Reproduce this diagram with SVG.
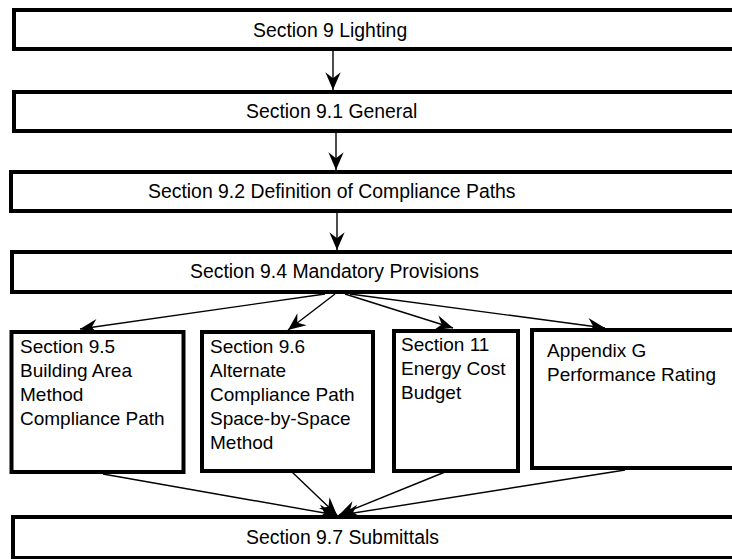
<svg xmlns="http://www.w3.org/2000/svg" width="732" height="559" viewBox="0 0 732 559">
<style>
.box{fill:#fff;stroke:#000;stroke-width:4}
.t{font-family:"Liberation Sans",Arial,sans-serif;font-size:19px;fill:#000}
.w{font-size:19.4px}
.c{stroke:#000;stroke-width:1.4;fill:none;marker-end:url(#ah)}
</style>
<defs>
<marker id="ah" markerUnits="userSpaceOnUse" markerWidth="20" markerHeight="20" viewBox="-16 -8 17 16" refX="0" refY="0" orient="auto">
<path d="M0,0 L-15,-6.5 L-10,0 L-15,6.5 Z" fill="#000"/>
</marker>
</defs>
<rect width="732" height="559" fill="#fff"/>
<g id="connectors">
<line class="c" x1="333" y1="51" x2="333" y2="90"/>
<line class="c" x1="336" y1="133" x2="336" y2="170"/>
<line class="c" x1="337" y1="213" x2="337" y2="250"/>
<line class="c" x1="325" y1="294" x2="80" y2="329"/>
<line class="c" x1="335" y1="294" x2="288" y2="330"/>
<line class="c" x1="345" y1="294" x2="453" y2="328"/>
<line class="c" x1="350" y1="294" x2="605" y2="328"/>
<line class="c" x1="103" y1="474" x2="336" y2="515"/>
<line class="c" x1="292" y1="472" x2="337" y2="515"/>
<line class="c" x1="445" y1="472" x2="339" y2="515"/>
<line class="c" x1="625" y1="470" x2="341" y2="515"/>
</g>
<g id="n1"><rect class="box" x="14" y="10" width="730" height="39"/><text class="t w" x="253" y="37">Section 9 Lighting</text></g>
<g id="n2"><rect class="box" x="14" y="92" width="730" height="39"/><text class="t w" x="246" y="118">Section 9.1 General</text></g>
<g id="n3"><rect class="box" x="11" y="172" width="733" height="39"/><text class="t w" x="148" y="198">Section 9.2 Definition of Compliance Paths</text></g>
<g id="n4"><rect class="box" x="12" y="252" width="732" height="40"/><text class="t w" x="190" y="278">Section 9.4 Mandatory Provisions</text></g>
<g id="n5"><rect class="box" x="11.5" y="332" width="172" height="140"/>
<text class="t" x="20" y="353">Section 9.5</text><text class="t" x="20" y="377">Building Area</text><text class="t" x="20" y="401">Method</text><text class="t" x="20" y="425">Compliance Path</text></g>
<g id="n6"><rect class="box" x="202" y="332" width="171" height="139"/>
<text class="t" x="210" y="353">Section 9.6</text><text class="t" x="210" y="377">Alternate</text><text class="t" x="210" y="401">Compliance Path</text><text class="t" x="210" y="425">Space-by-Space</text><text class="t" x="210" y="449">Method</text></g>
<g id="n7"><rect class="box" x="394" y="331" width="124" height="140"/>
<text class="t" x="401" y="351">Section 11</text><text class="t" x="401" y="375">Energy Cost</text><text class="t" x="401" y="399">Budget</text></g>
<g id="n8"><rect class="box" x="532" y="330" width="212" height="138"/>
<text class="t" x="547" y="357">Appendix G</text><text class="t" x="547" y="381">Performance Rating</text></g>
<g id="n9"><rect class="box" x="13" y="517" width="731" height="41"/><text class="t w" x="246" y="544">Section 9.7 Submittals</text></g>
</svg>
